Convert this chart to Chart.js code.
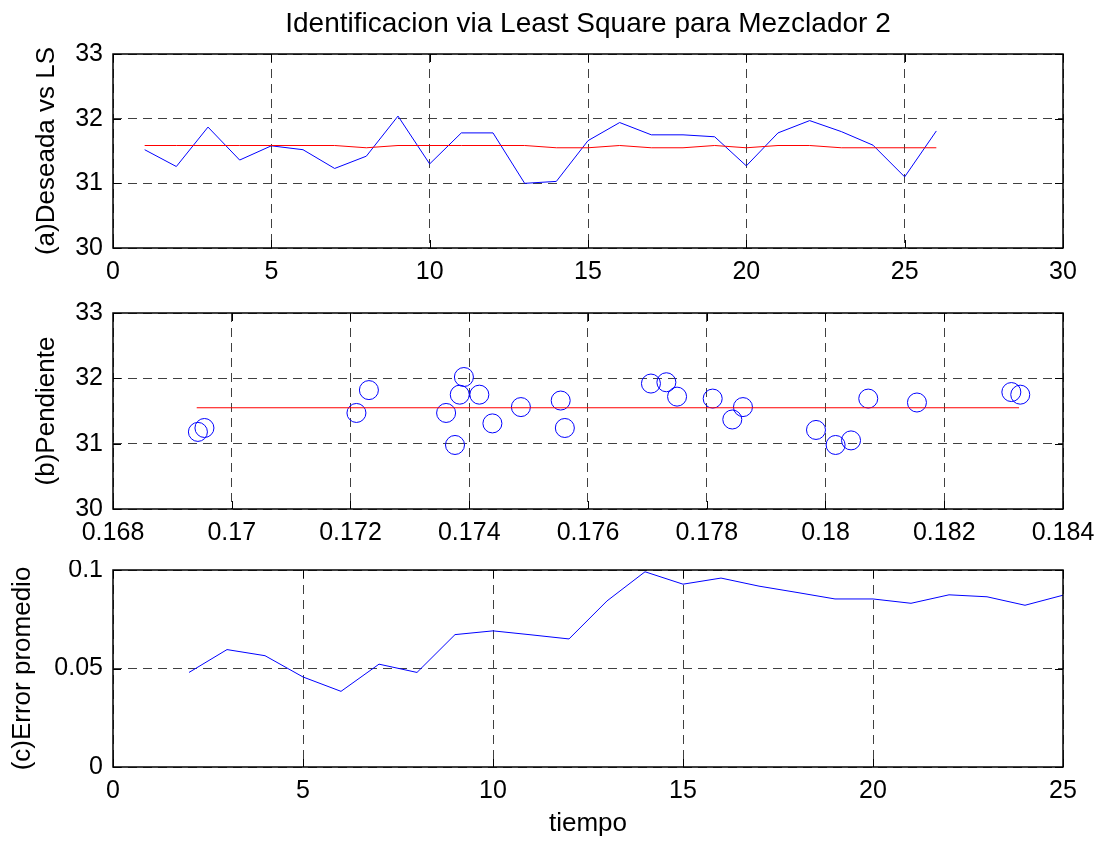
<!DOCTYPE html>
<html>
<head>
<meta charset="utf-8">
<title>Identificacion via Least Square para Mezclador 2</title>
<script src="https://cdn.jsdelivr.net/npm/chart.js@4.4.1/dist/chart.umd.min.js"></script>
<style>
  html, body { margin: 0; padding: 0; background: #fff; }
  #fig { position: relative; width: 1105px; height: 844px; }
  #fig canvas { position: absolute; left: 0; }
</style>
</head>
<body>
<div id="fig">
  <canvas id="plotA" width="1105" height="300" style="top:0px"></canvas>
  <canvas id="plotB" width="1105" height="260" style="top:300px"></canvas>
  <canvas id="plotC" width="1105" height="284" style="top:560px"></canvas>
</div>
<script>
// (a) salida deseada vs estimacion LS, por muestra
const muestras = [1, 2, 3, 4, 5, 6, 7, 8, 9, 10, 11, 12, 13, 14, 15, 16, 17, 18, 19, 20, 21, 22, 23, 24, 25, 26];
const deseada = [31.52, 31.26, 31.87, 31.36, 31.58, 31.52, 31.23, 31.42, 32.04, 31.30, 31.78, 31.78, 31.00,
                 31.03, 31.66, 31.94, 31.75, 31.75, 31.72, 31.27, 31.78, 31.97, 31.80, 31.59, 31.10, 31.81];
const estimadaLS = [31.585, 31.585, 31.585, 31.585, 31.585, 31.585, 31.585, 31.55, 31.585, 31.585, 31.585, 31.585, 31.585,
                    31.55, 31.55, 31.585, 31.55, 31.55, 31.585, 31.55, 31.585, 31.585, 31.55, 31.55, 31.55, 31.55];

// (b) pendiente estimada vs salida
const pendienteX = [0.16943, 0.16954, 0.17210, 0.17231, 0.17361, 0.17376, 0.17384, 0.17391, 0.17417, 0.17439, 0.17487,
                    0.17554, 0.17561, 0.17706, 0.17732, 0.17750, 0.17810, 0.17843, 0.17861, 0.17984, 0.18017, 0.18043,
                    0.18072, 0.18154, 0.18313, 0.18328];
const pendienteY = [31.18, 31.24, 31.47, 31.82, 31.47, 30.98, 31.75, 32.02, 31.75, 31.31, 31.56,
                    31.66, 31.24, 31.92, 31.94, 31.72, 31.69, 31.37, 31.56, 31.21, 30.98, 31.05,
                    31.69, 31.63, 31.79, 31.75];
const ajusteX = [0.16941, 0.18326];
const ajusteY = [31.55, 31.55];

// (c) error promedio en el tiempo
const tiempo = [2, 3, 4, 5, 6, 7, 8, 9, 10, 11, 12, 13, 14, 15, 16, 17, 18, 19, 20, 21, 22, 23, 24, 25];
const errorPromedio = [0.0480, 0.0596, 0.0565, 0.0457, 0.0384, 0.0522, 0.0480, 0.0672, 0.0691, 0.0671, 0.0650, 0.0843,
                       0.0991, 0.0928, 0.0959, 0.0918, 0.0886, 0.0853, 0.0853, 0.0831, 0.0874, 0.0864, 0.0821, 0.0872];

// ticks
const ticksXA = [0, 5, 10, 15, 20, 25, 30];
const etiquetasXA = ['0', '5', '10', '15', '20', '25', '30'];
const ticksXB = [0.168, 0.170, 0.172, 0.174, 0.176, 0.178, 0.180, 0.182, 0.184];
const etiquetasXB = ['0.168', '0.17', '0.172', '0.174', '0.176', '0.178', '0.18', '0.182', '0.184'];
const ticksXC = [0, 5, 10, 15, 20, 25];
const etiquetasXC = ['0', '5', '10', '15', '20', '25'];
const ticksY33 = [30, 31, 32, 33];
const etiquetasY33 = ['30', '31', '32', '33'];
const ticksYC = [0, 0.05, 0.1];
const etiquetasYC = ['0', '0.05', '0.1'];

const AZUL = '#0000ff';
const ROJO = '#ff0000';

Chart.defaults.font.family = "'Liberation Sans', Arial, Helvetica, sans-serif";
Chart.defaults.color = '#000';

const pares = (xs, ys) => xs.map((x, i) => ({ x: x, y: ys[i] }));

// caja negra y marcas de tick hacia adentro, estilo MATLAB
const marcoEjes = {
  id: 'marcoEjes',
  afterDatasetsDraw(chart) {
    const { ctx, chartArea: a, scales } = chart;
    const L = 8;
    ctx.save();
    ctx.strokeStyle = '#000';
    ctx.lineWidth = 1;
    ctx.beginPath();
    scales.x.ticks.forEach(t => {
      const px = Math.round(scales.x.getPixelForValue(t.value)) + 0.5;
      ctx.moveTo(px, a.bottom); ctx.lineTo(px, a.bottom - L);
      ctx.moveTo(px, a.top); ctx.lineTo(px, a.top + L);
    });
    scales.y.ticks.forEach(t => {
      const py = Math.round(scales.y.getPixelForValue(t.value)) + 0.5;
      ctx.moveTo(a.left, py); ctx.lineTo(a.left + L, py);
      ctx.moveTo(a.right, py); ctx.lineTo(a.right - L, py);
    });
    ctx.stroke();
    ctx.lineWidth = 1.5;
    ctx.strokeRect(a.left, a.top, a.right - a.left, a.bottom - a.top);
    ctx.restore();
  }
};

function etiqueta(valores, textos) {
  return v => {
    const i = valores.findIndex(t => Math.abs(t - v) < 1e-9);
    return i >= 0 ? textos[i] : '';
  };
}

function ejes(cfg) {
  return {
    x: {
      type: 'linear',
      min: cfg.xTicks[0],
      max: cfg.xTicks[cfg.xTicks.length - 1],
      afterBuildTicks: s => { s.ticks = cfg.xTicks.map(v => ({ value: v })); },
      afterFit: s => { s.height = cfg.xAlto; s.paddingLeft = 0; s.paddingRight = 0; },
      ticks: {
        autoSkip: false, maxRotation: 0, padding: 9,
        font: { size: 25 },
        callback: etiqueta(cfg.xTicks, cfg.xLabels)
      },
      grid: { color: '#404040', lineWidth: 1, drawTicks: false },
      border: { display: false, dash: [9, 6] },
      title: cfg.xTitulo ? {
        display: true, text: cfg.xTitulo, font: { size: 26 }, padding: { top: 0, bottom: 5 }
      } : { display: false }
    },
    y: {
      type: 'linear',
      min: cfg.yTicks[0],
      max: cfg.yTicks[cfg.yTicks.length - 1],
      afterBuildTicks: s => { s.ticks = cfg.yTicks.map(v => ({ value: v })); },
      afterFit: s => { s.width = 113; s.paddingTop = 0; s.paddingBottom = 0; },
      ticks: {
        autoSkip: false, padding: 10,
        font: { size: 25 },
        callback: etiqueta(cfg.yTicks, cfg.yLabels)
      },
      grid: { color: '#404040', lineWidth: 1, drawTicks: false },
      border: { display: false, dash: [9, 6] },
      title: {
        display: true, text: cfg.yTitulo, font: { size: 26 }, padding: { top: cfg.yTituloPad, bottom: 0 }
      }
    }
  };
}

function opciones(cfg) {
  return {
    responsive: false,
    animation: false,
    devicePixelRatio: 1,
    layout: { padding: { left: 0, right: 42, top: cfg.arriba, bottom: 0 } },
    plugins: {
      legend: { display: false },
      tooltip: { enabled: false },
      // titulo centrado sobre el area de ejes, no sobre todo el lienzo
      title: cfg.titulo ? {
        display: true, text: cfg.titulo, color: '#000', fullSize: false,
        font: { size: 28, weight: 'normal' },
        padding: { top: 7, bottom: 13.4 }
      } : { display: false }
    },
    elements: { line: { tension: 0 } },
    scales: ejes(cfg)
  };
}

new Chart(document.getElementById('plotA'), {
  type: 'scatter',
  data: {
    datasets: [
      { data: pares(muestras, estimadaLS), showLine: true, borderColor: ROJO, borderWidth: 1, pointRadius: 0 },
      { data: pares(muestras, deseada), showLine: true, borderColor: AZUL, borderWidth: 1, pointRadius: 0 }
    ]
  },
  options: opciones({
    titulo: 'Identificacion via Least Square para Mezclador 2',
    arriba: 0,
    xTicks: ticksXA, xLabels: etiquetasXA, xAlto: 52,
    yTicks: ticksY33, yLabels: etiquetasY33,
    yTitulo: '(a)Deseada vs LS', yTituloPad: 31
  }),
  plugins: [marcoEjes]
});

new Chart(document.getElementById('plotB'), {
  type: 'scatter',
  data: {
    datasets: [
      { data: pares(ajusteX, ajusteY), showLine: true, borderColor: ROJO, borderWidth: 1.2, pointRadius: 0 },
      {
        data: pares(pendienteX, pendienteY), showLine: false,
        pointStyle: 'circle', pointRadius: 9.5, pointBorderWidth: 1,
        pointBorderColor: AZUL, pointBackgroundColor: 'rgba(0,0,0,0)'
      }
    ]
  },
  options: opciones({
    arriba: 13,
    xTicks: ticksXB, xLabels: etiquetasXB, xAlto: 51,
    yTicks: ticksY33, yLabels: etiquetasY33,
    yTitulo: '(b)Pendiente', yTituloPad: 31
  }),
  plugins: [marcoEjes]
});

new Chart(document.getElementById('plotC'), {
  type: 'scatter',
  data: {
    datasets: [
      { data: pares(tiempo, errorPromedio), showLine: true, borderColor: AZUL, borderWidth: 1, pointRadius: 0 }
    ]
  },
  options: opciones({
    arriba: 10,
    xTicks: ticksXC, xLabels: etiquetasXC, xAlto: 77, xTitulo: 'tiempo',
    yTicks: ticksYC, yLabels: etiquetasYC,
    yTitulo: '(c)Error promedio', yTituloPad: 7
  }),
  plugins: [marcoEjes]
});
</script>
</body>
</html>
